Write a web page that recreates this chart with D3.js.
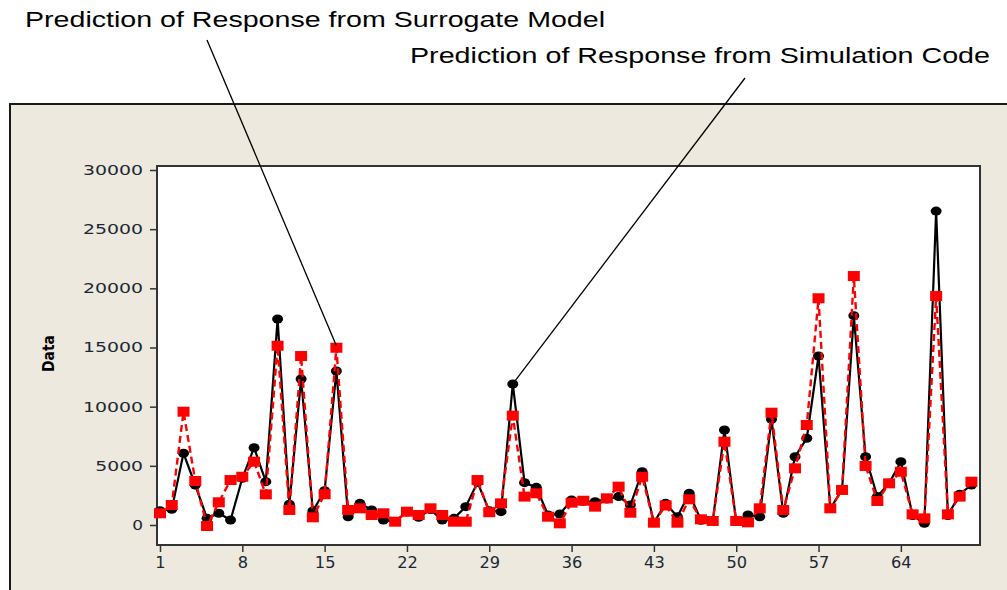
<!DOCTYPE html>
<html>
<head>
<meta charset="utf-8">
<script src="https://cdn.jsdelivr.net/npm/d3@7/dist/d3.min.js"></script>
<style>
  html, body { margin: 0; padding: 0; background: #ffffff; }
  svg { display: block; }
</style>
</head>
<body>
<svg id="chart" width="1007" height="590"></svg>
<script>
// ---- Data ----
const indexValues = d3.range(1, 71);
const simulationCode = [
  1200, 1330, 6060, 3380, 560, 990, 420, 3950, 6530, 3660,
  17410, 1750, 12340, 1180, 2900, 13010, 700, 1830, 1270, 420,
  300, 1100, 650, 1300, 420, 560, 1550, 3600, 1200, 1125,
  11920, 3580, 3180, 845, 930, 2110, 2000, 1970, 2200, 2400,
  1690, 4500, 200, 1830, 700, 2680, 400, 300, 8030, 300,
  845, 700, 8930, 990, 5770, 7330, 14280, 1410, 2960, 17690,
  5770, 2400, 3520, 5350, 800, 140, 26530, 800, 2600, 3380
];
const surrogateModel = [
  990, 1690, 9575, 3720, -85, 1920, 3800, 4080, 5350, 2590,
  15150, 1270, 14280, 650, 2600, 14980, 1270, 1410, 845, 990,
  280, 1125, 845, 1410, 845, 280, 280, 3800, 1080, 1830,
  9240, 2400, 2680, 700, 140, 1890, 2050, 1550, 2255, 3240,
  1040, 4080, 195, 1650, 195, 2170, 480, 340, 7040, 340,
  225, 1410, 9490, 1270, 4790, 8450, 19160, 1410, 2960, 21040,
  4990, 2030, 3520, 4500, 900, 560, 19350, 900, 2400, 3660
];
const xTicks = [1, 8, 15, 22, 29, 36, 43, 50, 57, 64];
const yTicks = [0, 5000, 10000, 15000, 20000, 25000, 30000];
const yLabel = "Data";
const annotSurrogate = { text: "Prediction of Response from Surrogate Model", idx: 16 };
const annotSimulation = { text: "Prediction of Response from Simulation Code", idx: 31 };

// ---- Layout ----
const svg = d3.select("#chart");
const plot = { left: 157, top: 166, right: 980, bottom: 545 };

const x = d3.scaleLinear().domain([0.745, 70.73]).range([plot.left, plot.right]);
const y = d3.scaleLinear().domain([-1690, 30338]).range([plot.bottom, plot.top]);

// outer frame
svg.append("rect")
  .attr("x", 10).attr("y", 104).attr("width", 1010).attr("height", 500)
  .attr("fill", "#ede9df").attr("stroke", "#1a1a1a").attr("stroke-width", 2);

// plot area
svg.append("rect")
  .attr("x", plot.left).attr("y", plot.top)
  .attr("width", plot.right - plot.left).attr("height", plot.bottom - plot.top)
  .attr("fill", "#ffffff");

const tickColor = "#1c2733";
const tickFont = "'DejaVu Sans', Verdana, sans-serif";

// y axis
const yAxis = d3.axisLeft(y).tickValues(yTicks).tickSize(7).tickPadding(7).tickFormat(d3.format("d"));
const gy = svg.append("g").attr("transform", `translate(${plot.left},0)`).call(yAxis);
gy.select(".domain").remove();
gy.selectAll(".tick line").attr("stroke", "#333").attr("stroke-width", 1.5);
gy.selectAll(".tick text")
  .attr("font-family", tickFont)
  .attr("font-size", 14)
  .attr("fill", tickColor)
  .attr("textLength", d => String(d).length * 12.3 - 1.5)
  .attr("lengthAdjust", "spacingAndGlyphs");

// x axis
const xAxis = d3.axisBottom(x).tickValues(xTicks).tickSize(7).tickPadding(5).tickFormat(d3.format("d"));
const gx = svg.append("g").attr("transform", `translate(0,${plot.bottom})`).call(xAxis);
gx.select(".domain").remove();
gx.selectAll(".tick line").attr("stroke", "#333").attr("stroke-width", 1.5);
gx.selectAll(".tick text")
  .attr("font-family", tickFont)
  .attr("font-size", 15)
  .attr("fill", tickColor)
  .attr("textLength", d => String(d).length * 10.3)
  .attr("lengthAdjust", "spacingAndGlyphs");

// plot border
svg.append("rect")
  .attr("x", plot.left).attr("y", plot.top)
  .attr("width", plot.right - plot.left).attr("height", plot.bottom - plot.top)
  .attr("fill", "none").attr("stroke", "#333").attr("stroke-width", 2);

// y label
svg.append("text")
  .attr("transform", `translate(54,${(plot.top + plot.bottom) / 2 - 2}) rotate(-90)`)
  .attr("text-anchor", "middle")
  .attr("font-family", tickFont)
  .attr("font-weight", "bold")
  .attr("font-size", 15)
  .attr("fill", "#000")
  .attr("textLength", 37)
  .attr("lengthAdjust", "spacingAndGlyphs")
  .text(yLabel);

// series
const simData = indexValues.map((d, i) => ({ i: d, v: simulationCode[i] }));
const surData = indexValues.map((d, i) => ({ i: d, v: surrogateModel[i] }));
const line = d3.line().x(d => x(d.i)).y(d => y(d.v));

svg.append("path").datum(simData)
  .attr("d", line).attr("fill", "none")
  .attr("stroke", "#000").attr("stroke-width", 2.2);

svg.append("g").selectAll("ellipse").data(simData).join("ellipse")
  .attr("cx", d => x(d.i)).attr("cy", d => y(d.v))
  .attr("rx", 5.5).attr("ry", 4.5).attr("fill", "#000");

svg.append("path").datum(surData)
  .attr("d", line).attr("fill", "none")
  .attr("stroke", "#ff0000").attr("stroke-width", 2.4)
  .attr("stroke-dasharray", "7,4");

svg.append("g").selectAll("rect").data(surData).join("rect")
  .attr("x", d => x(d.i) - 6).attr("y", d => y(d.v) - 5)
  .attr("width", 12).attr("height", 10).attr("fill", "#ff0000");

// annotations
const annFont = "'Liberation Sans', Arial, sans-serif";
svg.append("text")
  .attr("x", 25).attr("y", 26.5)
  .attr("font-family", annFont).attr("font-size", 22).attr("fill", "#000")
  .attr("textLength", 580).attr("lengthAdjust", "spacingAndGlyphs")
  .text(annotSurrogate.text);
svg.append("line")
  .attr("x1", 207).attr("y1", 40)
  .attr("x2", x(annotSurrogate.idx)).attr("y2", y(surrogateModel[annotSurrogate.idx - 1]) - 2)
  .attr("stroke", "#000").attr("stroke-width", 1.3);

svg.append("text")
  .attr("x", 410).attr("y", 63)
  .attr("font-family", annFont).attr("font-size", 22).attr("fill", "#000")
  .attr("textLength", 580).attr("lengthAdjust", "spacingAndGlyphs")
  .text(annotSimulation.text);
svg.append("line")
  .attr("x1", 745).attr("y1", 78)
  .attr("x2", x(annotSimulation.idx)).attr("y2", y(simulationCode[annotSimulation.idx - 1]))
  .attr("stroke", "#000").attr("stroke-width", 1.3);
</script>
</body>
</html>
